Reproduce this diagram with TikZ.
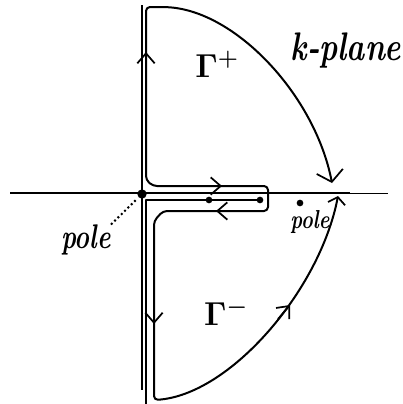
\documentclass[tikz,border=0pt]{standalone}
\usetikzlibrary{arrows.meta}
\usepackage{bm}
\begin{document}
\begin{tikzpicture}[x=0.75pt,y=-0.75pt,
  axisline/.style={line width=1.4pt},
  cont/.style={line width=1.5pt, line join=round},
  tip/.style={-{Straight Barb[length=7.5pt,width=13pt,line width=1.3pt]}, line width=1.3pt},
  dotnode/.style={circle, fill, inner sep=0pt},
  lbl/.style={inner sep=0pt}]
\useasboundingbox (0,0) rectangle (403,404);
% axes
\draw[axisline] (10,193) -- (350,193);
\draw[line width=0.7pt] (350,193) -- (388,193);
\draw[axisline] (142,5) -- (142,390);
% origin pole
\node[dotnode, minimum size=7pt] (O) at (142,194) {};
% cut
\draw[cont] (146,404) -- (146,200) -- (260,200);
\node[dotnode, minimum size=5pt] (c1) at (209,200) {};
\node[dotnode, minimum size=5pt] (c2) at (260,200) {};
% contour
\draw[cont, rounded corners=3pt,
  {Straight Barb[length=8pt,width=20pt,line width=1.3pt]}-{Straight Barb[length=5pt,width=13pt,line width=1.3pt]}]
  (332,183) .. controls (315,95) and (235,10) .. (163,7) -- (146,7) -- (146,180) -- (153,186)
  -- (268,186) -- (268,211) -- (163,211) -- (154,221) -- (154,400)
  .. controls (230,395) and (320,290) .. (338,196);
% direction arrows
\draw[tip] (146,68) -- (146,52);
\draw[tip] (204,186) -- (222,186);
\draw[tip] (234,211) -- (216,211);
\draw[tip] (154,306) -- (154,324);
\draw[tip] (278,319) -- (290,305);
% right pole
\node[dotnode, minimum size=5pt] (P) at (300,203) {};
% labels
\node[lbl] (kplane) at (346,51) {\scalebox{1}[1.3]{\fontsize{23}{23}\selectfont\bfseries\itshape k-plane}};
\node[lbl] (poleR) at (310,222) {\scalebox{1}[1.3]{\fontsize{15}{15}\selectfont\bfseries\itshape pole}};
\node[lbl] (poleL) at (86,240) {\scalebox{1}[1.35]{\fontsize{19}{19}\selectfont\bfseries\itshape pole}};
\node[lbl] (gp) at (217,64) {\fontsize{26}{26}\selectfont$\bm{\Gamma^{+}}$};
\node[lbl] (gm) at (226,312) {\fontsize{26}{26}\selectfont$\bm{\Gamma^{-}}$};
\draw[dotted, line width=1.5pt, shorten >=3pt] (poleL.north east) -- (O);
\end{tikzpicture}
\end{document}
